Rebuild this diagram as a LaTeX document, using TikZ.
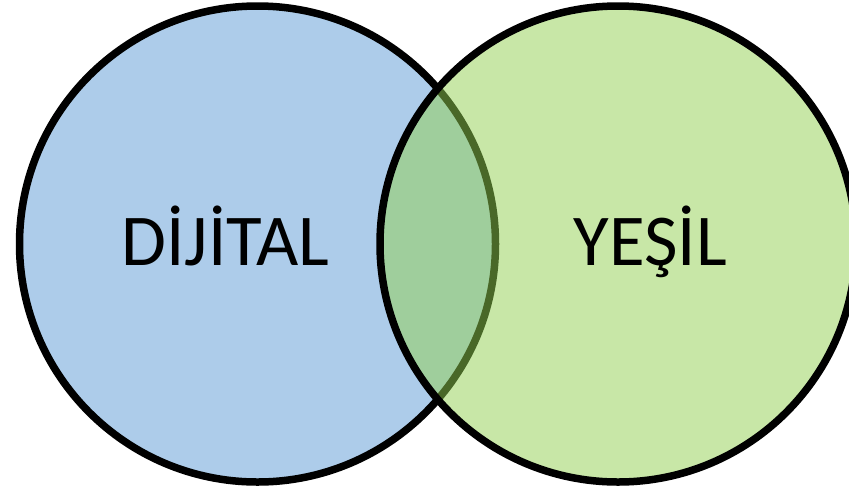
\documentclass[tikz,border=0pt]{standalone}
\usepackage{fontspec}
\setmainfont{Carlito}
\definecolor{dblue}{RGB}{173,204,234}
\definecolor{ygreen}{RGB}{146,208,80}
\begin{document}
\begin{tikzpicture}[x=1pt,y=1pt,
  setcircle/.style={draw=black,line width=7.5pt},
  lbl/.style={anchor=base,inner sep=0pt,font=\fontsize{73}{80}\selectfont}]
\useasboundingbox (0,0) rectangle (849,-491);
\fill[white] (0,0) rectangle (849,-491);
\path[setcircle,fill=dblue] (257.5,-244) circle[radius=238];
\path[setcircle,fill=ygreen,fill opacity=0.5] (618,-244) circle[radius=238];
\node[lbl] (dijital) at (225.5,-265) {DİJİTAL};
\node[lbl] (yesil) at (650.5,-265) {YEŞİL};
\end{tikzpicture}
\end{document}
